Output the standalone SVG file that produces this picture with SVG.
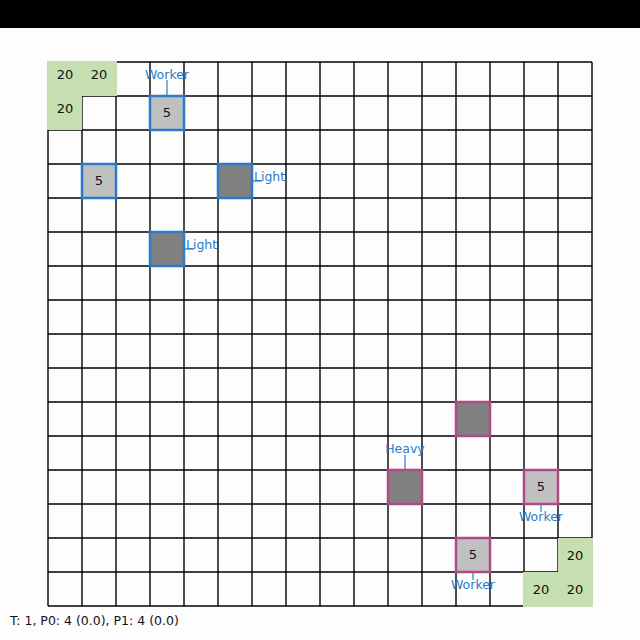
<svg xmlns="http://www.w3.org/2000/svg" width="640" height="640" viewBox="0 0 640 640">
<defs>
<style>
.grid line{stroke:#000;stroke-width:1.4}
.base{fill:#c5dfb0}
.res{font-family:"DejaVu Sans","Liberation Sans",sans-serif;font-size:13px;fill:#111;text-anchor:middle}
.lbl{font-family:"DejaVu Sans","Liberation Sans",sans-serif;font-size:12.5px;fill:#2a7bc8}
.p0{stroke:#2a7bc8;stroke-width:2.5}
.p1{stroke:#b04a86;stroke-width:2.5}
.light{fill:#c0c0c0}
.dark{fill:#808080}
.con{stroke:#2a7bc8;stroke-width:1.2;fill:none}
</style>
</defs>
<rect width="640" height="640" fill="#fdfdfd"/>
<rect x="0" y="0" width="640" height="28" fill="#000"/>
<g class="grid">
<line x1="48" y1="62" x2="48" y2="606"/><line x1="82" y1="62" x2="82" y2="606"/><line x1="116" y1="62" x2="116" y2="606"/><line x1="150" y1="62" x2="150" y2="606"/><line x1="184" y1="62" x2="184" y2="606"/><line x1="218" y1="62" x2="218" y2="606"/><line x1="252" y1="62" x2="252" y2="606"/><line x1="286" y1="62" x2="286" y2="606"/><line x1="320" y1="62" x2="320" y2="606"/><line x1="354" y1="62" x2="354" y2="606"/><line x1="388" y1="62" x2="388" y2="606"/><line x1="422" y1="62" x2="422" y2="606"/><line x1="456" y1="62" x2="456" y2="606"/><line x1="490" y1="62" x2="490" y2="606"/><line x1="524" y1="62" x2="524" y2="606"/><line x1="558" y1="62" x2="558" y2="606"/><line x1="592" y1="62" x2="592" y2="606"/>
<line x1="48" y1="62" x2="592" y2="62"/><line x1="48" y1="96" x2="592" y2="96"/><line x1="48" y1="130" x2="592" y2="130"/><line x1="48" y1="164" x2="592" y2="164"/><line x1="48" y1="198" x2="592" y2="198"/><line x1="48" y1="232" x2="592" y2="232"/><line x1="48" y1="266" x2="592" y2="266"/><line x1="48" y1="300" x2="592" y2="300"/><line x1="48" y1="334" x2="592" y2="334"/><line x1="48" y1="368" x2="592" y2="368"/><line x1="48" y1="402" x2="592" y2="402"/><line x1="48" y1="436" x2="592" y2="436"/><line x1="48" y1="470" x2="592" y2="470"/><line x1="48" y1="504" x2="592" y2="504"/><line x1="48" y1="538" x2="592" y2="538"/><line x1="48" y1="572" x2="592" y2="572"/><line x1="48" y1="606" x2="592" y2="606"/>
</g>
<g id="res-tl">
<rect class="base" x="47" y="61" width="70" height="35"/>
<rect class="base" x="47" y="95" width="35" height="35"/>
<text class="res" x="65" y="79">20</text>
<text class="res" x="99" y="79">20</text>
<text class="res" x="65" y="113">20</text>
</g>
<g id="res-br">
<rect class="base" x="558" y="538" width="35" height="35"/>
<rect class="base" x="523" y="572" width="70" height="35"/>
<text class="res" x="575" y="555" dy="4.5">20</text>
<text class="res" x="541" y="589" dy="4.5">20</text>
<text class="res" x="575" y="589" dy="4.5">20</text>
</g>
<g id="connectors">
<line class="con" x1="167" y1="80" x2="167" y2="96"/>
<line class="con" x1="252" y1="181" x2="262" y2="181"/>
<line class="con" x1="184" y1="249" x2="194" y2="249"/>
<line class="con" x1="405" y1="455" x2="405" y2="470"/>
<line class="con" x1="541" y1="504" x2="541" y2="512"/>
<line class="con" x1="473" y1="572" x2="473" y2="580"/>
</g>
<g id="p0-worker-a">
<rect class="light p0" x="150" y="96" width="34" height="34"/>
<text class="res" x="167" y="117">5</text>
<text class="lbl" x="167" y="79" text-anchor="middle">Worker</text>
</g>
<g id="p0-worker-b">
<rect class="light p0" x="82" y="164" width="34" height="34"/>
<text class="res" x="99" y="185">5</text>
</g>
<g id="p0-light-a">
<rect class="dark p0" x="218" y="164" width="34" height="34"/>
<text class="lbl" x="254" y="181">Light</text>
</g>
<g id="p0-light-b">
<rect class="dark p0" x="150" y="232" width="34" height="34"/>
<text class="lbl" x="186" y="249">Light</text>
</g>
<g id="p1-unit">
<rect class="dark p1" x="456" y="402" width="34" height="34"/>
</g>
<g id="p1-heavy">
<rect class="dark p1" x="388" y="470" width="34" height="34"/>
<text class="lbl" x="405" y="453" text-anchor="middle">Heavy</text>
</g>
<g id="p1-worker-a">
<rect class="light p1" x="524" y="470" width="34" height="34"/>
<text class="res" x="541" y="491">5</text>
<text class="lbl" x="541" y="521" text-anchor="middle">Worker</text>
</g>
<g id="p1-worker-b">
<rect class="light p1" x="456" y="538" width="34" height="34"/>
<text class="res" x="473" y="559">5</text>
<text class="lbl" x="473" y="589" text-anchor="middle">Worker</text>
</g>
<text x="10" y="625" font-family="DejaVu Sans, Liberation Sans, sans-serif" font-size="12.5" fill="#111">T: 1, P0: 4 (0.0), P1: 4 (0.0)</text>
</svg>
